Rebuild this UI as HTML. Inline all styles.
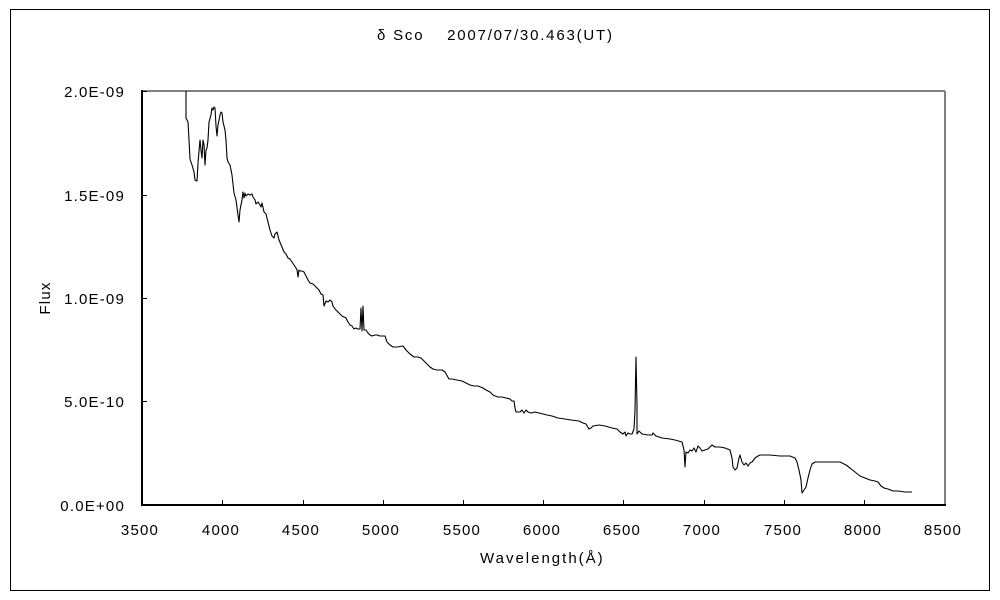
<!DOCTYPE html>
<html><head><meta charset="utf-8"><style>
html,body{margin:0;padding:0;background:#fff;}
svg{display:block;}
text{font-family:"Liberation Sans","Noto Sans CJK JP",sans-serif;font-size:15px;fill:#000;}
.t{letter-spacing:1.2px;}
</style></head><body>
<svg width="1000" height="600" viewBox="0 0 1000 600" xmlns="http://www.w3.org/2000/svg">
<rect x="0" y="0" width="1000" height="600" fill="#fff"/>
<rect x="10.5" y="9.5" width="979" height="581" fill="none" stroke="#000" stroke-width="1"/>
<text x="377" y="40" style="letter-spacing:1.8px">δ Sco　 2007/07/30.463(UT)</text>
<line x1="142" y1="91" x2="945" y2="91" stroke="#808080" stroke-width="2"/>
<line x1="945" y1="91" x2="945" y2="506" stroke="#808080" stroke-width="2"/>
<line x1="142" y1="90" x2="142" y2="506" stroke="#000" stroke-width="2"/>
<line x1="141" y1="505" x2="946" y2="505" stroke="#000" stroke-width="2"/>
<g stroke="#000" stroke-width="1">
<line x1="142" y1="91.5" x2="147" y2="91.5"/>
<line x1="142" y1="195.5" x2="147" y2="195.5"/>
<line x1="142" y1="298.5" x2="147" y2="298.5"/>
<line x1="142" y1="401.5" x2="147" y2="401.5"/>
<line x1="222.5" y1="505" x2="222.5" y2="500"/>
<line x1="303.5" y1="505" x2="303.5" y2="500"/>
<line x1="383.5" y1="505" x2="383.5" y2="500"/>
<line x1="463.5" y1="505" x2="463.5" y2="500"/>
<line x1="543.5" y1="505" x2="543.5" y2="500"/>
<line x1="623.5" y1="505" x2="623.5" y2="500"/>
<line x1="704.5" y1="505" x2="704.5" y2="500"/>
<line x1="784.5" y1="505" x2="784.5" y2="500"/>
<line x1="864.5" y1="505" x2="864.5" y2="500"/>
</g>
<g text-anchor="end" class="t">
<text x="125" y="97">2.0E-09</text>
<text x="125" y="201">1.5E-09</text>
<text x="125" y="304">1.0E-09</text>
<text x="125" y="407">5.0E-10</text>
<text x="125" y="511">0.0E+00</text>
</g>
<g text-anchor="middle" class="t">
<text x="140" y="535">3500</text>
<text x="221" y="535">4000</text>
<text x="301" y="535">4500</text>
<text x="381" y="535">5000</text>
<text x="462" y="535">5500</text>
<text x="542" y="535">6000</text>
<text x="622" y="535">6500</text>
<text x="702" y="535">7000</text>
<text x="783" y="535">7500</text>
<text x="863" y="535">8000</text>
<text x="943" y="535">8500</text>
</g>
<text x="480" y="563" style="letter-spacing:2px">Wavelength(Å)</text>
<text transform="translate(50,298) rotate(-90)" text-anchor="middle" class="t">Flux</text>
<polyline fill="none" stroke="#000" stroke-width="1.1" stroke-linejoin="round" points="
186,91 186,118 188,122 189,140 190,159 192,165 194,172 195,180 197,181 198,163 200,140 201,150 202,158 203,140 204,145 205,165 206,150 207,148 208,140 209,122 211,115 212,108 213,110 214,107 215,108 216,126 217,136 218,125 220,115 221,112 222,113 223,122 225,130 226,140 227,158 228,162 230,165 232,175 234,193 236,200 238,215 239,222 240,210 242,200 243,192 244,198 245,193 246,196 248,194 250,195 252,194 253,197 255,200 256,204 258,202 260,205 261,207 262,203 264,212 266,214 268,222 270,230 272,236 274,238 275,234 277,232 279,240 282,247 284,252 286,254 288,258 290,259 292,262 294,265 296,268 297,270 298,277 299,270 300,271 302,271 304,272 306,276 308,280 310,283 313,284 315,286 317,288 319,290 321,294 323,295 324,306 326,301 328,302 330,300 332,302 333,306 335,309 337,311 340,314 342,316 344,317 346,318 348,322 350,325 352,326 354,329 356,328 358,329 360,329 361,308 362,331 363,306 364,330 366,330 368,333 370,335 372,336 375,335 377,335 380,336 385,336 387,342 390,345 393,347 397,347 403,346 406,350 410,354 414,357 418,357 421,358 425,362 430,367 433,369 437,370 442,370 445,372 449,379 452,379 457,380 462,381 466,383 470,385 474,386 478,386 483,388 486,390 490,392 493,395 495,396 498,397 502,397 506,398 510,399 512,401 514,401 515,408 516,412 520,412 522,410 524,413 526,410 528,412 531,413 535,412 539,413 543,414 547,415 552,416 558,418 565,419 571,420 579,421 583,423 586,424 589,429 591,428 593,426 599,425 605,426 612,428 617,429 620,432 623,434 625,432 626,436 628,433 630,434 632,434 634,429 635,410 636,357 637,406 637,434 639,431 642,434 648,435 652,435 653,433 656,436 662,438 670,439 675,440 682,442 684,450 685,467 686,452 688,453 690,450 692,451 694,448 696,452 698,446 700,448 702,451 705,450 708,449 712,445 715,447 720,447 725,448 730,450 732,458 733,467 735,470 737,468 739,458 740,455 742,462 744,465 746,463 748,466 750,463 752,462 755,458 758,456 760,455 770,455 780,456 790,456 795,458 797,462 799,470 801,480 802,493 804,490 806,487 808,478 810,470 812,464 815,462 822,462 840,462 846,465 850,468 855,472 860,476 865,478 870,480 875,481 878,482 881,486 884,488 888,489 893,491 898,491 905,492 912,492"/>
</svg>
</body></html>
